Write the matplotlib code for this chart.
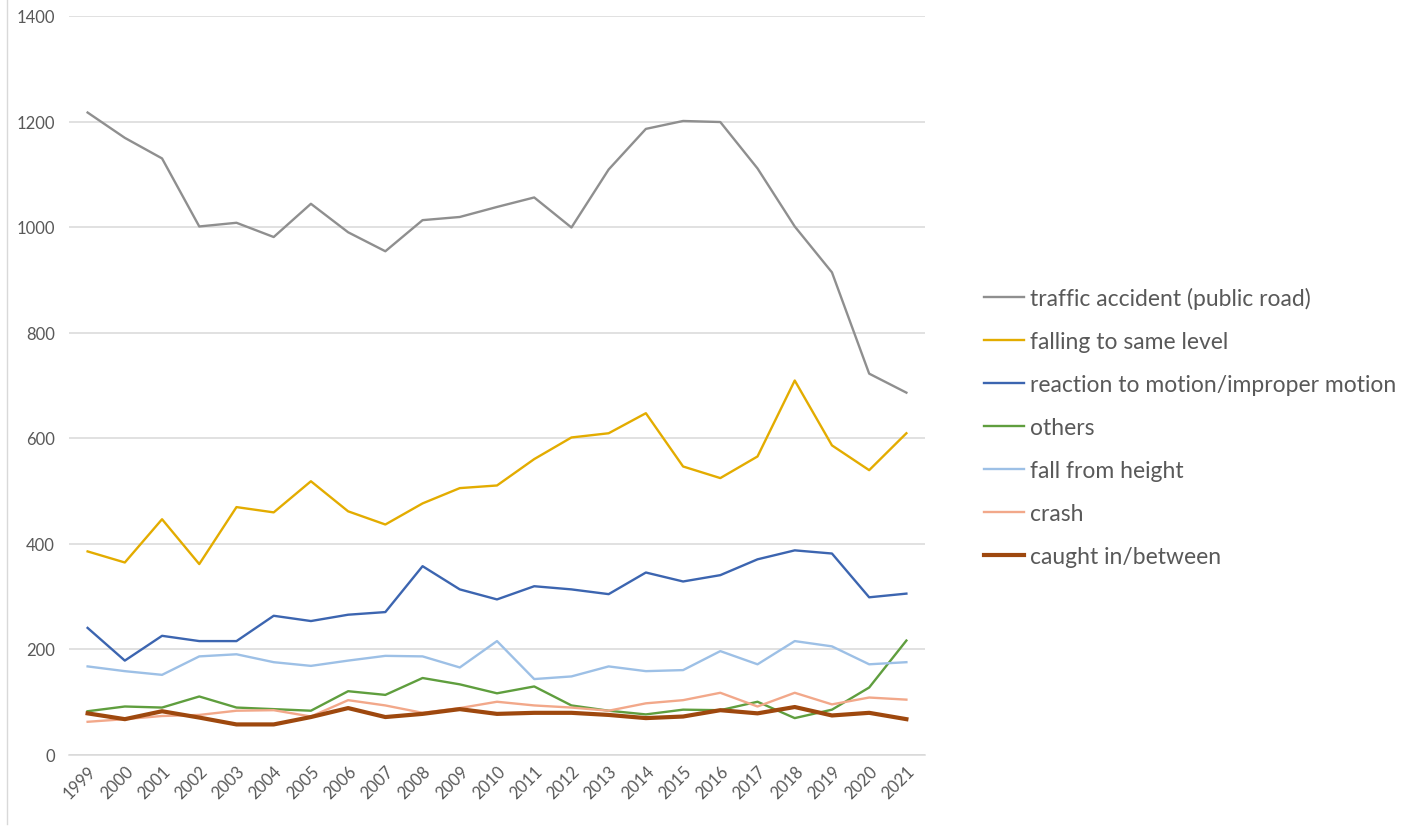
import matplotlib
matplotlib.use("Agg")
import matplotlib.pyplot as plt
from matplotlib.lines import Line2D

# Datos
anios = [str(a) for a in range(1999, 2022)]

traffic = [1217, 1169, 1130, 1001, 1008, 981, 1044, 990, 954, 1013, 1019, 1038,
           1056, 999, 1109, 1186, 1201, 1199, 1111, 1001, 914, 722, 686]
falling_same = [385, 364, 446, 361, 469, 459, 518, 461, 436, 476, 505, 510,
                560, 601, 609, 647, 546, 524, 565, 709, 586, 539, 609]
reaction = [240, 178, 225, 215, 215, 263, 253, 265, 270, 357, 313, 294,
            319, 313, 304, 345, 328, 340, 370, 387, 381, 298, 305]
others = [82, 91, 89, 110, 89, 86, 83, 120, 113, 145, 133, 116,
          129, 93, 83, 76, 85, 84, 100, 69, 85, 127, 216]
fall_height = [167, 158, 151, 186, 190, 175, 168, 178, 187, 186, 165, 215,
               143, 148, 167, 158, 160, 196, 171, 215, 205, 171, 175]
crash = [62, 67, 73, 75, 83, 84, 72, 103, 93, 79, 88, 100,
         93, 89, 83, 97, 103, 117, 91, 117, 95, 108, 104]
caught = [78, 67, 82, 70, 57, 57, 71, 88, 71, 77, 86, 77,
          79, 79, 75, 69, 72, 84, 78, 90, 74, 79, 67]

series = [
    ("traffic accident (public road)", traffic, "#8f8f8f", 1.7),
    ("falling to same level", falling_same, "#e3ac00", 1.7),
    ("reaction to motion/improper motion", reaction, "#3c65b0", 1.7),
    ("others", others, "#5f9e3e", 1.7),
    ("fall from height", fall_height, "#9dc0e6", 1.7),
    ("crash", crash, "#f2a88a", 1.7),
    ("caught in/between", caught, "#9e480e", 3.0),
]

plt.rcParams["font.family"] = ["Lato", "DejaVu Sans"]
txt = "#595959"

fig = plt.figure(figsize=(14.09, 8.29), dpi=100)
W, H = 1409, 829
ax = fig.add_axes([69 / W, (H - 755.5) / H, (925 - 69) / W, (755.5 - 17) / H])

x = range(len(anios))
for nombre, valores, color, lw in series:
    ax.plot(x, valores, color=color, lw=lw, label=nombre, solid_joinstyle="round")

ax.set_xlim(-0.5, len(anios) - 0.5)
ax.set_ylim(0, 1400)
ax.set_yticks(range(0, 1401, 200))
ax.grid(axis="y", color="#d9d9d9", lw=1.1)
ax.set_axisbelow(True)
for s in ax.spines.values():
    s.set_visible(False)
ax.spines["bottom"].set_visible(True)
ax.spines["bottom"].set_color("#d9d9d9")
ax.spines["bottom"].set_linewidth(1.1)

ax.set_xticks(list(x))
ax.set_xticklabels(anios, rotation=45, ha="right", rotation_mode="anchor")
ax.tick_params(axis="both", length=0, colors=txt, labelsize=12)
ax.tick_params(axis="y", pad=10)
ax.tick_params(axis="x", pad=6)

ax.legend(loc="upper left", bbox_to_anchor=(984 / W, (H - 288) / H),
          bbox_transform=fig.transFigure, frameon=False, fontsize=16.5,
          labelcolor=txt, handlelength=1.75, handletextpad=0.25,
          labelspacing=0.96, borderaxespad=0, borderpad=0)

# borde izquierdo del area del grafico
fig.add_artist(Line2D([7 / W, 7 / W], [0.005, 1], color="#d9d9d9", lw=1.0))

plt.savefig("out.png", dpi=100)
